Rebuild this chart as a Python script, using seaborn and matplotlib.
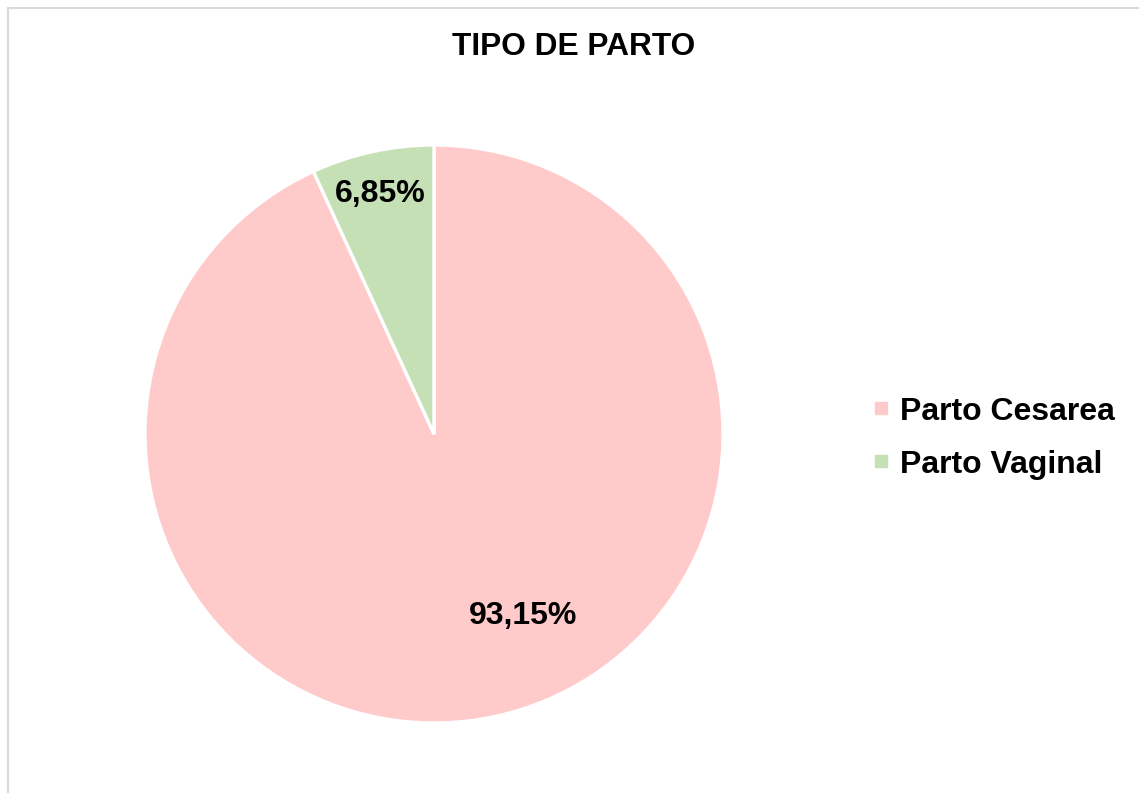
import matplotlib
matplotlib.use("Agg")
import matplotlib.pyplot as plt
import seaborn as sns
import numpy as np
from matplotlib.lines import Line2D

categories = ["Parto Cesarea", "Parto Vaginal"]
values = [93.15, 6.85]
colors = ["#FFCACA", "#C5E0B4"]
title = "TIPO DE PARTO"

sns.set_theme(style="white")
plt.rcParams['font.family'] = ['Liberation Sans', 'DejaVu Sans']
plt.rcParams['text.color'] = 'black'

fig = plt.figure(figsize=(11.39, 7.93), dpi=100)
ax = fig.add_axes([145/1139, (793-723)/793, 578/1139, 578/793])

labels_fmt = [f"{v:.2f}".replace('.', ',') + "%" for v in values]
wedges, texts = ax.pie(values, colors=colors, startangle=90, counterclock=False,
                       wedgeprops=dict(edgecolor="white", linewidth=2.4),
                       radius=1.0)
ax.set_xlim(-1.0, 1.0)
ax.set_ylim(-1.0, 1.0)
ax.set_aspect('equal')

# label placement (angles in degrees, radius fraction) following the reference
label_pos = [(-63.8, 0.70), (102.6, 0.85)]
for lab, (ang, r) in zip(labels_fmt, label_pos):
    a = np.deg2rad(ang)
    ax.text(r*np.cos(a), r*np.sin(a), lab, ha="center", va="center",
            fontsize=23, fontweight="bold", color="black")

fig.text(574/1139, 1 - 47/793, title, ha="center", va="center",
         fontsize=22.8, fontweight="bold", color="black")

handles = [Line2D([0], [0], marker='s', linestyle='none', markersize=9,
                  markerfacecolor=c, markeredgecolor=c) for c in colors]
leg = fig.legend(handles, categories, loc="center left",
                 bbox_to_anchor=(855/1139, 1 - 438/793), frameon=False,
                 prop=dict(size=23, weight="bold"), handlelength=0.6,
                 handletextpad=0.3, labelspacing=0.72, borderpad=0)
for t in leg.get_texts():
    t.set_color("black")

# chart area border (top and left visible)
fig.add_artist(Line2D([8/1139, 1.0], [1 - 8/793, 1 - 8/793], color="#D9D9D9", lw=1.5,
                      transform=fig.transFigure))
fig.add_artist(Line2D([8/1139, 8/1139], [0, 1 - 8/793], color="#D9D9D9", lw=1.5,
                      transform=fig.transFigure))

fig.savefig("out.png", dpi=100, facecolor="white")
